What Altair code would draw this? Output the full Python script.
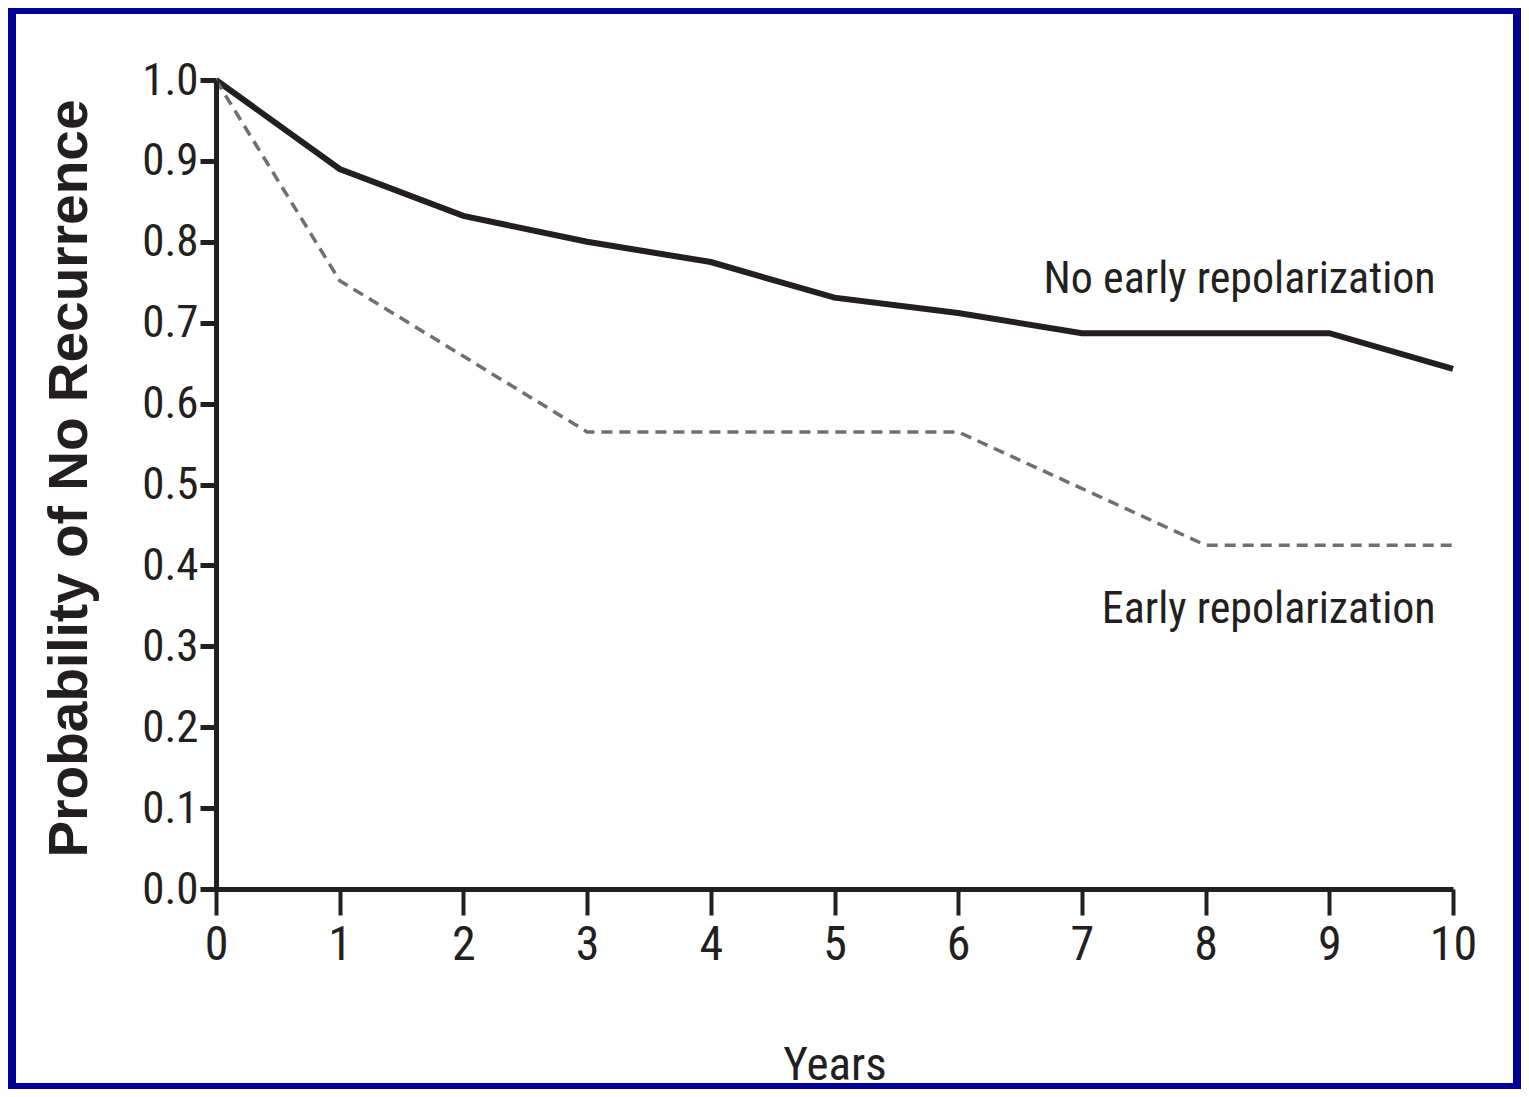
import altair as alt
import pandas as pd

# ---- data ----
years = [0, 1, 2, 3, 4, 5, 6, 7, 8, 9, 10]
no_early = [1.0, 0.89, 0.832, 0.80, 0.775, 0.731, 0.712, 0.687, 0.687, 0.687, 0.643]

early_years = [0, 1, 3, 6, 8, 10]
early = [1.0, 0.752, 0.565, 0.565, 0.425, 0.425]

x_ticks = [0, 1, 2, 3, 4, 5, 6, 7, 8, 9, 10]
y_ticks = [0.0, 0.1, 0.2, 0.3, 0.4, 0.5, 0.6, 0.7, 0.8, 0.9, 1.0]

label_text = ["No early repolarization", "Early repolarization"]
label_x = [9.86, 9.86]
label_y = [0.737, 0.329]

# ---- styling ----
INK = "#231F20"
NARROW = '"Roboto Condensed", "Liberation Sans Narrow", "DejaVu Sans Condensed", sans-serif'
BOLD = '"Liberation Sans", Arial, sans-serif'
W, H = 1237, 809

df_solid = pd.DataFrame({"year": years, "p": no_early})
df_dot = pd.DataFrame({"year": early_years, "p": early})
df_lab = pd.DataFrame({"text": label_text, "year": label_x, "p": label_y})

xscale = alt.Scale(domain=[0, 10], nice=False)
yscale = alt.Scale(domain=[0, 1], nice=False)

xaxis = alt.Axis(
    values=x_ticks, format="d", grid=False, labelFlush=False, zindex=2,
    tickSize=26, tickWidth=4, domainWidth=5, tickColor=INK, domainColor=INK,
    labelFont=NARROW, labelFontSize=48, labelColor=INK, labelPadding=6,
    title="Years", titleFont=NARROW, titleFontSize=47, titleFontWeight="normal",
    titleColor=INK, titleY=190, titleBaseline="alphabetic",
)
yaxis = alt.Axis(
    values=y_ticks, format=".1f", grid=False, labelFlush=False, zindex=2,
    tickSize=16, tickWidth=5, domainWidth=5, tickColor=INK, domainColor=INK,
    labelFont=NARROW, labelFontSize=45, labelColor=INK, labelPadding=2,
    title="Probability of No Recurrence", titleFont=BOLD, titleFontSize=55,
    titleFontWeight="bold", titleColor=INK, titleAngle=-90, titleX=-130,
    titleY=398, titleAlign="center", titleBaseline="alphabetic",
)

frame = alt.Chart(pd.DataFrame({"a": [0]})).mark_rect(color="white").encode(
    x=alt.value(-200), x2=alt.value(1297), y=alt.value(-66), y2=alt.value(1003)
)

solid = alt.Chart(df_solid).mark_line(color=INK, strokeWidth=6).encode(
    x=alt.X("year:Q", scale=xscale, axis=xaxis),
    y=alt.Y("p:Q", scale=yscale, axis=yaxis),
)

dotted = alt.Chart(df_dot).mark_line(
    color="#6f6f6f", strokeWidth=3.5, strokeDash=[11, 7]
).encode(
    x=alt.X("year:Q", scale=xscale),
    y=alt.Y("p:Q", scale=yscale),
)

labels = alt.Chart(df_lab).mark_text(
    align="right", baseline="alphabetic", font=NARROW, fontSize=44, color=INK
).encode(
    x=alt.X("year:Q", scale=xscale),
    y=alt.Y("p:Q", scale=yscale),
    text="text:N",
)

chart = alt.layer(frame, solid, dotted, labels).properties(
    width=W, height=H,
    background="#000096",
    autosize=alt.AutoSizeParams(type="none"),
    padding={"left": 208, "top": 72, "right": 68, "bottom": 200},
).configure_view(strokeWidth=0)

chart.save("out.html", embed_options={"renderer": "svg", "actions": False})
